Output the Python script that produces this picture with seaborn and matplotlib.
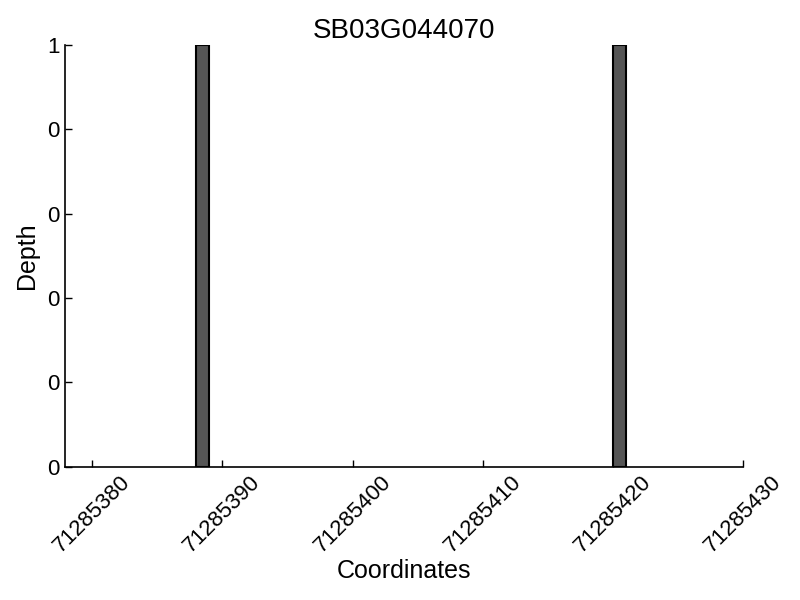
import numpy as np
import pandas as pd
import seaborn as sns
import matplotlib
matplotlib.use("Agg")
import matplotlib.pyplot as plt
from matplotlib.ticker import FormatStrFormatter

###data
gene_name = "SB03G044070"
coords = [71285388, 71285420]
depth = [1, 1]
xtick_pos = [71285380, 71285390, 71285400, 71285410, 71285420, 71285430]

df_cov = pd.DataFrame({"Coordinates": coords, "Depth": depth})
df_cov["mid"] = df_cov["Coordinates"] + 0.5

sns.set_style("ticks")
plt.rcParams['font.family'] = ['Liberation Sans', 'DejaVu Sans']
plt.rcParams['text.color'] = 'black'
plt.rcParams['axes.labelcolor'] = 'black'

fig, ax = plt.subplots(figsize=(8, 6), dpi=100)
fig.subplots_adjust(left=0.081, right=0.929, top=0.925, bottom=0.222)

###bars are 1 bp wide, gap between bars is 32 bp
sns.barplot(x="mid", y="Depth", data=df_cov,
            native_scale=True, width=1/32,
            color="#555555", saturation=1,
            edgecolor="black", linewidth=1.5, ax=ax)

ax.set_xlim(71285377.9, 71285430)
ax.set_ylim(0, 1)
ax.set_xticks(xtick_pos)
ax.xaxis.set_major_formatter(FormatStrFormatter('%d'))
ax.set_yticks(np.linspace(0, 1, 6))
ax.yaxis.set_major_formatter(FormatStrFormatter('%d'))
ax.tick_params(direction="in", length=5, width=1, labelsize=16, colors="black")
plt.setp(ax.get_xticklabels(), rotation=45)

for s in ["left", "bottom"]:
    ax.spines[s].set_linewidth(1.2)
    ax.spines[s].set_color("black")
sns.despine(ax=ax)

ax.set_title(gene_name, fontsize=20, color="black", pad=5)
ax.set_xlabel("Coordinates", fontsize=18, labelpad=2)
ax.set_ylabel("Depth", fontsize=18, labelpad=6)

plt.savefig("out.png", dpi=100)
